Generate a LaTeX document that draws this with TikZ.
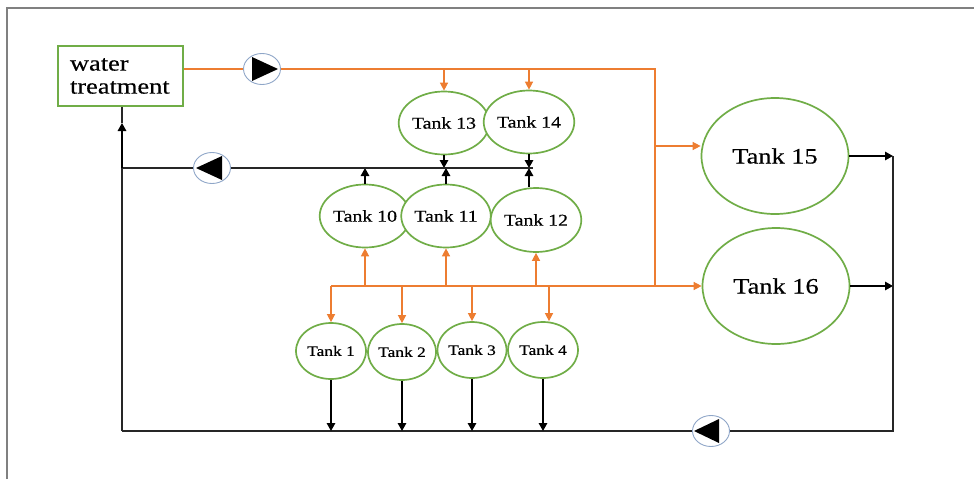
\documentclass[tikz,border=0pt]{standalone}
\usepackage{fontspec}
\newfontfamily\labelfont{Liberation Serif}[FakeStretch=1.2,FakeBold=0.4]
\usetikzlibrary{arrows.meta,shapes.geometric}

\definecolor{tankgreen}{HTML}{70AD47}
\definecolor{feedorange}{HTML}{ED7D31}
\definecolor{pumpblue}{HTML}{8FA6C8}
\definecolor{framegray}{HTML}{808080}

\tikzset{
  tank/.style={ellipse, draw=tankgreen, line width=1.7pt, inner sep=0pt, fill=white},
  smalltank/.style={tank, minimum width=70pt, minimum height=56pt,
    font=\labelfont\fontsize{14.5}{14.5}\selectfont},
  midtank/.style={tank, minimum height=63pt,
    font=\labelfont\fontsize{16.5}{16.5}\selectfont},
  bigtank/.style={tank, minimum width=147pt, minimum height=116pt,
    font=\labelfont\fontsize{22}{22}\selectfont},
  feed/.style={draw=feedorange, line width=1.4pt},
  feedarrow/.style={feed, -{Triangle[length=8pt,width=8pt]}},
  ret/.style={draw=black!85, line width=1.2pt},
  retarrow/.style={draw=black, line width=1.5pt, -{Triangle[length=8pt,width=8.5pt]}},
  pump/.style={ellipse, draw=pumpblue, line width=0.9pt, fill=white,
    minimum width=37pt, minimum height=31pt, inner sep=0pt},
}

\begin{document}
\begin{tikzpicture}[x=1pt,y=-1pt]
\useasboundingbox (0,0) rectangle (974,479);

% frame
\draw[framegray, line width=2pt] (7,479) -- (7,8) -- (974,8);

% treatment unit
\node[draw=tankgreen, line width=1.6pt, minimum width=125pt, minimum height=60pt,
  text width=101pt, align=left, inner xsep=12pt, inner ysep=0pt,
  font=\labelfont\fontsize{22}{23}\selectfont] (wt) at (120.5,76) {water\\treatment};

% tanks
\node[midtank, minimum width=82pt] (t13) at (444,123) {Tank 13};
\node[midtank, minimum width=83pt] (t14) at (529,122) {Tank 14};
\node[midtank, minimum width=83pt] (t10) at (365,216) {Tank 10};
\node[midtank, minimum width=79pt] (t11) at (446,216) {Tank 11};
\node[midtank, minimum width=85pt, minimum height=64pt] (t12) at (536,220) {Tank 12};
\node[smalltank] (t1) at (331,351) {Tank 1};
\node[smalltank, minimum width=68pt] (t2) at (402,352) {Tank 2};
\node[smalltank, minimum width=69pt] (t3) at (472,350) {Tank 3};
\node[smalltank] (t4) at (543,350) {Tank 4};
\node[bigtank] (t15) at (775,156) {Tank 15};
\node[bigtank] (t16) at (776,286) {Tank 16};

% pumps
\node[pump] (pA) at (262,69) {};
\fill ([shift={(-10,-12)}]pA.center) -- ([shift={(16,0)}]pA.center)
  -- ([shift={(-10,12)}]pA.center) -- cycle;
\node[pump] (pB) at (212,168) {};
\fill ([shift={(10,-12)}]pB.center) -- ([shift={(-16,0)}]pB.center)
  -- ([shift={(10,12)}]pB.center) -- cycle;
\node[pump] (pC) at (711,431) {};
\fill ([shift={(8,-12)}]pC.center) -- ([shift={(-17,0)}]pC.center)
  -- ([shift={(8,12)}]pC.center) -- cycle;

% junction points
\coordinate (fc) at (655,69);
\coordinate (fb) at (655,286);
\coordinate (f15) at (655,146);
\coordinate (rr) at (533,168);
\coordinate (rl) at (122,168);
\coordinate (arrL) at (122,123);
\coordinate (bl) at (122,431);
\coordinate (br) at (893,431);

% supply lines
\draw[feed] (wt.east |- pA.center) -- (pA.west);
\draw[feed] (pA.east) -- (fc) -- (fb);
\draw[feed] (t1.north |- fb) -- (fb);
\draw[feedarrow] (fb) -- (t16.west);
\draw[feedarrow] (f15) -- (t15.west |- f15);
\draw[feedarrow] (t13.north |- fc) -- (t13.north);
\draw[feedarrow] (t14.north |- fc) -- (t14.north);
\draw[feedarrow] (t10.south |- fb) -- (t10.south);
\draw[feedarrow] (t11.south |- fb) -- (t11.south);
\draw[feedarrow] (t12.south |- fb) -- (t12.south);
\draw[feedarrow] (t1.north |- fb) -- (t1.north);
\draw[feedarrow] (t2.north |- fb) -- (t2.north);
\draw[feedarrow] (t3.north |- fb) -- (t3.north);
\draw[feedarrow] ([xshift=6pt]t4.north |- fb) -- ([xshift=6pt]t4.north);

% upper return line
\draw[retarrow] (t13.south) -- (t13.south |- rr);
\draw[retarrow] (t14.south) -- (t14.south |- rr);
\draw[retarrow] (t10.north) -- (t10.north |- rr);
\draw[retarrow] (t11.north) -- (t11.north |- rr);
\draw[retarrow] (t12.north -| t14.south) -- (t14.south |- rr);
\draw[ret] (rr) -- (pB.east);
\draw[ret] (pB.west) -- (rl);

% back to treatment
\draw[ret] (bl) -- (rl);
\draw[retarrow] (rl) -- (arrL);
\draw[ret] (arrL) -- (wt.south -| rl);

% lower return line
\draw[retarrow] (t15.east) -- (t15.east -| br);
\draw[retarrow] (t16.east) -- (t16.east -| br);
\draw[ret] (t15.east -| br) -- (br) -- (pC.east);
\draw[ret] (pC.west) -- (bl);
\draw[retarrow] (t1.south) -- (t1.south |- bl);
\draw[retarrow] (t2.south) -- (t2.south |- bl);
\draw[retarrow] (t3.south) -- (t3.south |- bl);
\draw[retarrow] (t4.south) -- (t4.south |- bl);
\end{tikzpicture}
\end{document}
